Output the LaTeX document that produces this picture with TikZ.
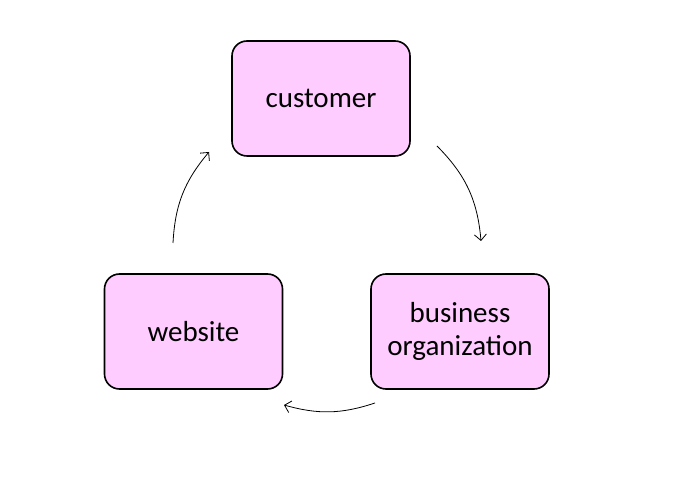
\documentclass[tikz,border=0pt]{standalone}
\usepackage{fontspec}
\setmainfont{Carlito}
\usetikzlibrary{arrows.meta}
\begin{document}
\begin{tikzpicture}[x=1pt,y=-1pt,
  box/.style={draw=black, line width=1.6pt, fill=boxpink, rounded corners=15pt,
    minimum width=178pt, minimum height=115pt, inner sep=0pt, align=center,
    font=\fontsize{29}{33}\selectfont},
  flow/.style={line width=0.8pt, -{Straight Barb[length=6pt,width=12pt,line width=0.8pt]}}]
\definecolor{boxpink}{HTML}{FFCCFF}
\useasboundingbox (0,0) rectangle (681,502);
\node[box] (cust) at (321,98.5) {customer};
\node[box] (biz) at (460,331.5) {business\\organization};
\node[box] (web) at (193.5,331.5) {website};
\coordinate (a1s) at (437,146);
\coordinate (a1e) at (481,241);
\coordinate (a2s) at (375,403);
\coordinate (a2e) at (284,405);
\coordinate (a3s) at (173,243);
\coordinate (a3e) at (209,152);
\draw[flow] (a1s) to[bend left=20] (a1e);
\draw[flow] (a2s) to[bend left=17] (a2e);
\draw[flow] (a3s) to[bend left=18.5] (a3e);
\end{tikzpicture}
\end{document}
